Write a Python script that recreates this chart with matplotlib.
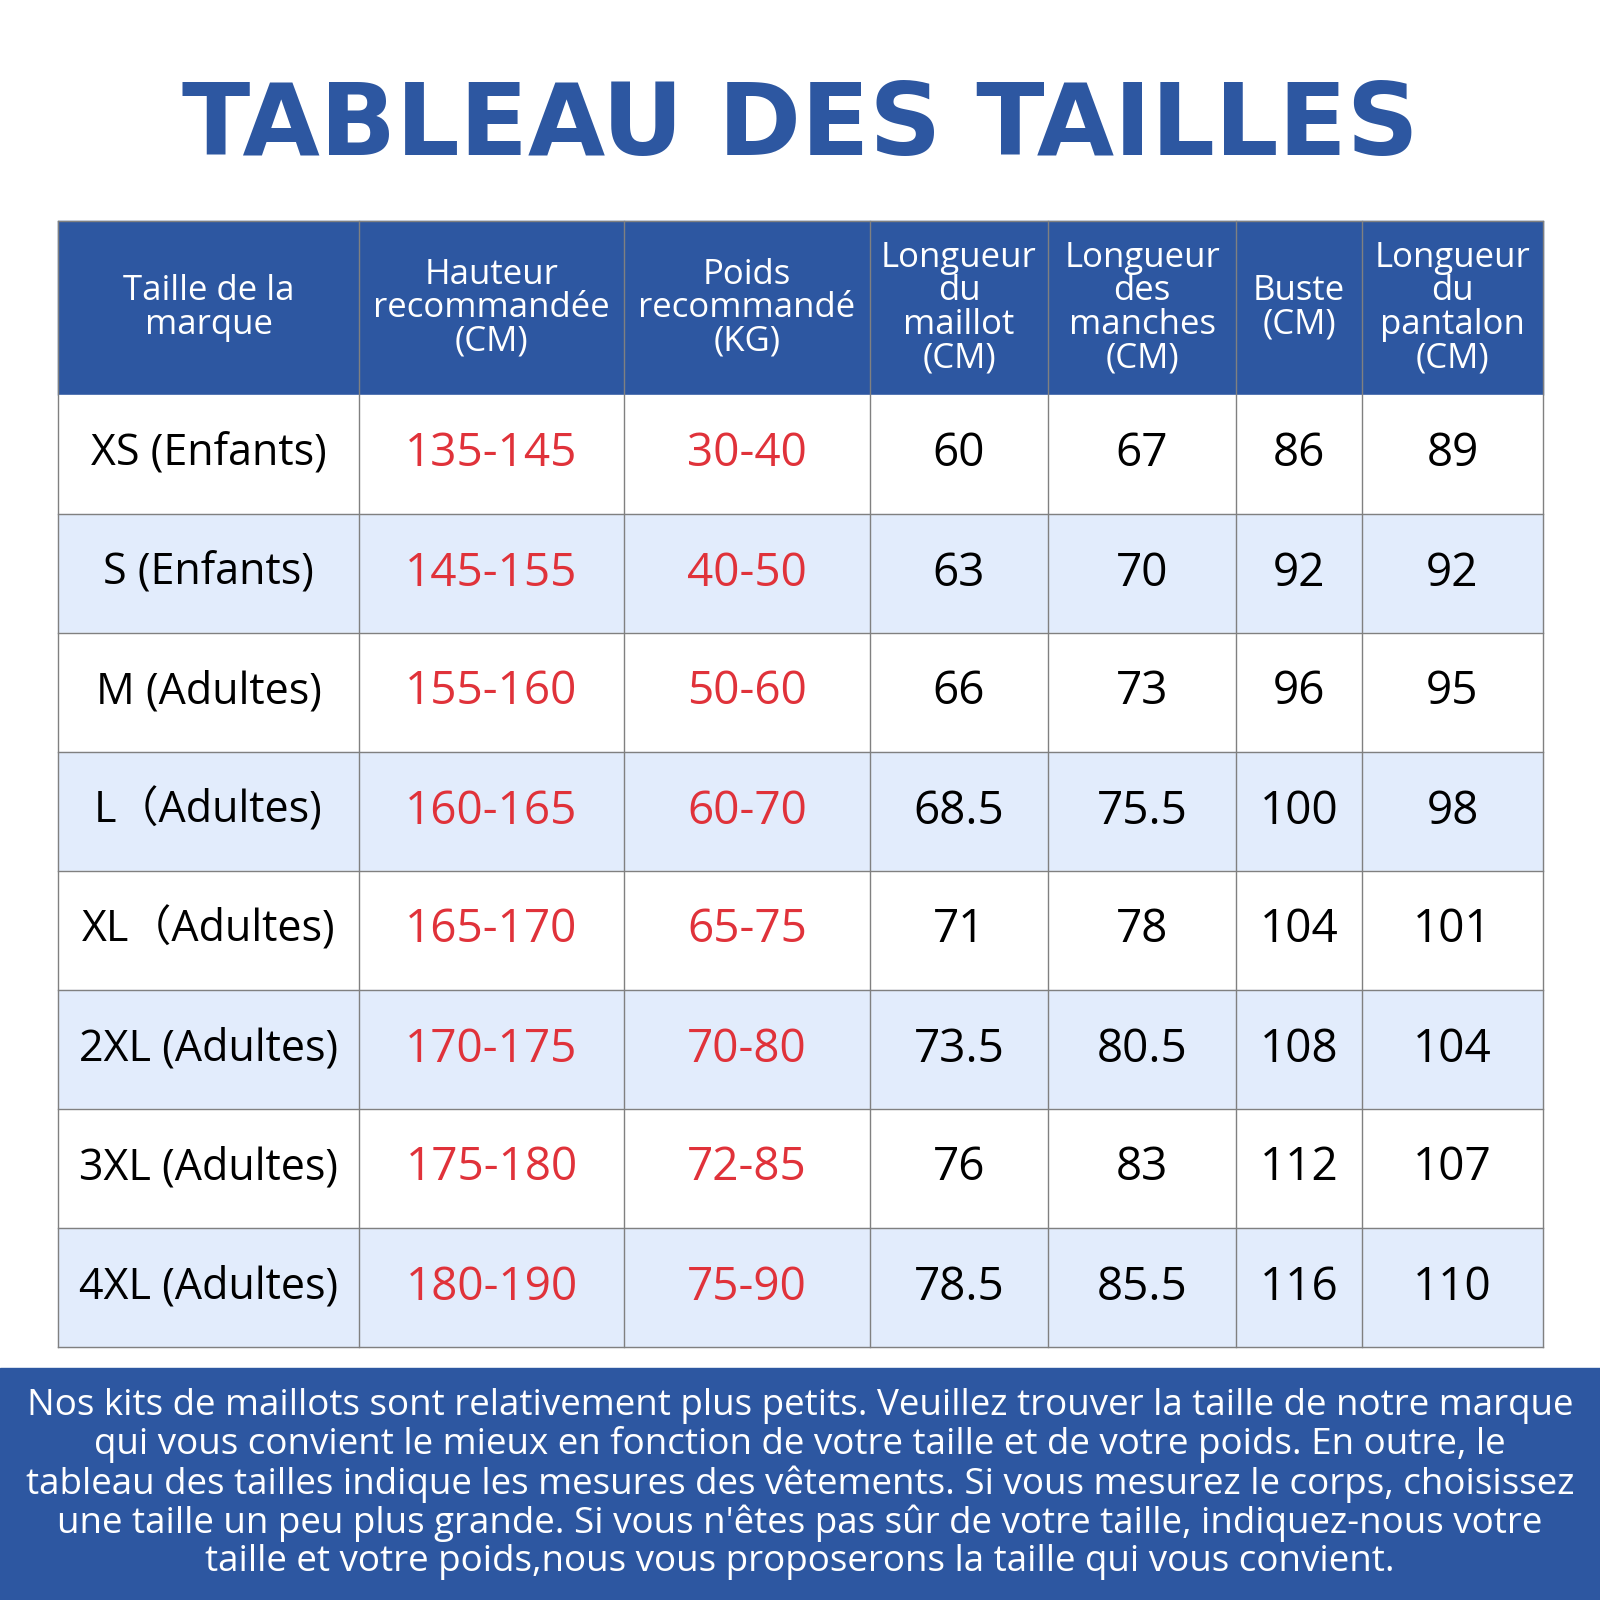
import matplotlib
matplotlib.use("Agg")
import matplotlib.pyplot as plt
from matplotlib.patches import Rectangle

title = "TABLEAU DES TAILLES"
headers = ["Taille de la\nmarque", "Hauteur\nrecommandée\n(CM)", "Poids\nrecommandé\n(KG)",
           "Longueur\ndu\nmaillot\n(CM)", "Longueur\ndes\nmanches\n(CM)", "Buste\n(CM)",
           "Longueur\ndu\npantalon\n(CM)"]
sizes = ["XS (Enfants)", "S (Enfants)", "M (Adultes)", "L（Adultes)", "XL（Adultes)",
         "2XL (Adultes)", "3XL (Adultes)", "4XL (Adultes)"]
height = ["135-145", "145-155", "155-160", "160-165", "165-170", "170-175", "175-180", "180-190"]
weight = ["30-40", "40-50", "50-60", "60-70", "65-75", "70-80", "72-85", "75-90"]
maillot = ["60", "63", "66", "68.5", "71", "73.5", "76", "78.5"]
manches = ["67", "70", "73", "75.5", "78", "80.5", "83", "85.5"]
buste = ["86", "92", "96", "100", "104", "108", "112", "116"]
pantalon = ["89", "92", "95", "98", "101", "104", "107", "110"]
footer = ("Nos kits de maillots sont relativement plus petits. Veuillez trouver la taille de notre marque\n"
          "qui vous convient le mieux en fonction de votre taille et de votre poids. En outre, le\n"
          "tableau des tailles indique les mesures des vêtements. Si vous mesurez le corps, choisissez\n"
          "une taille un peu plus grande. Si vous n'êtes pas sûr de votre taille, indiquez-nous votre\n"
          "taille et votre poids,nous vous proposerons la taille qui vous convient.")

BLUE = "#2D57A1"
LIGHT = "#E2ECFC"
RED = "#E0323A"
plt.rcParams['font.family'] = ['Open Sans', 'DejaVu Sans', 'Noto Sans CJK SC']

fig = plt.figure(figsize=(16, 16), dpi=100)
ax = fig.add_axes([0, 0, 1, 1])
ax.set_xlim(0, 1600); ax.set_ylim(1600, 0); ax.axis("off")

ax.text(800, 128, title, ha="center", va="center", fontsize=72, fontweight="heavy",
        color=BLUE, family=["DejaVu Sans"])

cols = [58, 359, 624, 870, 1048, 1236, 1362, 1543]
top, hb = 221, 395
rh = (1347 - hb) / 8
ax.add_patch(Rectangle((cols[0], top), cols[-1] - cols[0], hb - top, color=BLUE, zorder=1))
for j, h in enumerate(headers):
    ax.text((cols[j] + cols[j + 1]) / 2, (top + hb) / 2, h, ha="center", va="center",
            fontsize=25, color="white", linespacing=0.98, zorder=3)
data = [sizes, height, weight, maillot, manches, buste, pantalon]
for i in range(8):
    y0 = hb + i * rh
    ax.add_patch(Rectangle((cols[0], y0), cols[-1] - cols[0], rh,
                           color=("white" if i % 2 == 0 else LIGHT), zorder=1))
    for j, col in enumerate(data):
        ax.text((cols[j] + cols[j + 1]) / 2, y0 + rh / 2, col[i], ha="center", va="center",
                fontsize=33 if j else 31, color=RED if j in (1, 2) else "black", zorder=3)
    ax.plot([cols[0], cols[-1]], [y0 + rh, y0 + rh], color="#808080", lw=1, zorder=2)
for x in cols:
    ax.plot([x, x], [top, 1347], color="#808080", lw=1, zorder=2)
ax.plot([cols[0], cols[-1]], [top, top], color="#808080", lw=1, zorder=2)

ax.add_patch(Rectangle((0, 1368), 1600, 232, color=BLUE, zorder=1))
ax.text(800, 1484, footer, ha="center", va="center", fontsize=26.5, color="white",
        linespacing=1.08, zorder=3)

fig.savefig("out.png", dpi=100)
